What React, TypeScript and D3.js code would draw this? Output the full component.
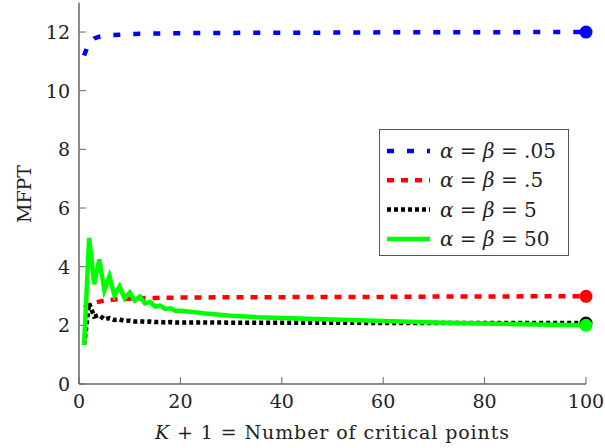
import React from "react"
import * as d3 from "d3"

// K + 1 values where the curves were sampled
const kPoints = [1, 2, 3, 4, 5, 6, 7, 8, 9, 10, 11, 12, 13, 14, 15, 16, 17, 18, 19, 20, 25, 30, 35, 40, 50, 60, 70, 80, 90, 100]

const mfpt005 = [11.2, 11.65, 11.78, 11.84, 11.87, 11.89, 11.9, 11.91, 11.92, 11.93, 11.93, 11.94, 11.94, 11.95, 11.95, 11.95, 11.95, 11.96, 11.96, 11.96, 11.97, 11.97, 11.98, 11.98, 11.98, 11.99, 11.99, 11.99, 12.0, 12.0]
const mfpt05 = [2.6, 2.7, 2.77, 2.81, 2.84, 2.86, 2.88, 2.89, 2.9, 2.91, 2.92, 2.92, 2.93, 2.93, 2.93, 2.94, 2.94, 2.94, 2.94, 2.95, 2.95, 2.96, 2.96, 2.96, 2.97, 2.97, 2.98, 2.98, 2.99, 2.99]
const mfpt5 = [1.33, 2.75, 2.3, 2.35, 2.2, 2.25, 2.18, 2.2, 2.15, 2.16, 2.13, 2.14, 2.12, 2.13, 2.11, 2.12, 2.1, 2.11, 2.1, 2.1, 2.1, 2.09, 2.09, 2.09, 2.09, 2.08, 2.08, 2.08, 2.08, 2.08]
const mfpt50 = [1.33, 4.98, 3.4, 4.25, 3.2, 3.68, 3.02, 3.32, 2.92, 3.12, 2.85, 2.98, 2.75, 2.8, 2.64, 2.67, 2.56, 2.58, 2.5, 2.5, 2.4, 2.33, 2.28, 2.25, 2.2, 2.15, 2.1, 2.06, 2.03, 2.0]

const xTicks = [0, 20, 40, 60, 80, 100]
const yTicks = [0, 2, 4, 6, 8, 10, 12]

const series = [
  { label: ".05", values: mfpt005, color: "#0000ff", dash: "7 13" },
  { label: ".5", values: mfpt05, color: "#ff0000", dash: "7 7" },
  { label: "5", values: mfpt5, color: "#000000", dash: "4 3" },
  { label: "50", values: mfpt50, color: "#00ff00", dash: "none" },
]

const W = 605
const H = 448
const left = 79
const right = 586
const bottom = 384
const txt = { fontFamily: "'DejaVu Serif'" }
const fs = 19

export default function App() {
  const x = d3.scaleLinear().domain([0, 100]).range([left, right])
  const y = d3.scaleLinear().domain([0, 13]).range([bottom, bottom - 13 * 29.33])
  const line = d3
    .line<number>()
    .x((_, i) => x(kPoints[i]))
    .y((d) => y(d))
  const axisColor = "#666"

  return (
    <svg width={W} height={H} style={{ position: "absolute", left: 0, top: 0, background: "#fff" }}>
      {/* ticks */}
      {xTicks.map((t) => (
        <g key={"x" + t}>
          <line x1={x(t)} x2={x(t)} y1={bottom} y2={bottom - 7} stroke={axisColor} strokeWidth={1} />
          <text x={x(t)} y={bottom + 24} textAnchor="middle" fontSize={fs} fill="#222" style={txt}>{t}</text>
        </g>
      ))}
      {yTicks.map((t) => (
        <g key={"y" + t}>
          <line x1={left} x2={left + 7} y1={y(t)} y2={y(t)} stroke={axisColor} strokeWidth={1} />
          <text x={70} y={y(t) + 7} textAnchor="end" fontSize={fs} fill="#222" style={txt}>{t}</text>
        </g>
      ))}

      {/* curves */}
      {series.map((s) => (
        <path key={s.label} d={line(s.values) ?? ""} fill="none" stroke={s.color} strokeWidth={4.5} strokeDasharray={s.dash} strokeLinejoin="miter" />
      ))}
      {series.map((s) => (
        <circle key={"m" + s.label} cx={x(kPoints[kPoints.length - 1])} cy={y(s.values[s.values.length - 1])} r={6.5} fill={s.color} />
      ))}

      {/* axis lines */}
      <line x1={left} x2={left} y1={bottom} y2={y(13)} stroke={axisColor} strokeWidth={1.5} />
      <line x1={left} x2={right} y1={bottom} y2={bottom} stroke={axisColor} strokeWidth={1.5} />

      {/* legend */}
      <rect x={379.5} y={129.5} width={189} height={126} fill="#fff" stroke="#555" strokeWidth={1} />
      {series.map((s, i) => {
        const cy = 151 + i * 29.3
        return (
          <g key={"l" + s.label}>
            <line x1={387} x2={430} y1={cy} y2={cy} stroke={s.color} strokeWidth={4.5} strokeDasharray={s.dash} />
            <text x={440} y={cy + 7} fontSize={20} fill="#222" style={txt}>
              <tspan fontStyle="italic">α</tspan>
              <tspan> = </tspan>
              <tspan fontStyle="italic">β</tspan>
              <tspan> = {s.label}</tspan>
            </text>
          </g>
        )
      })}

      {/* axis titles */}
      <text x={332} y={439} textAnchor="middle" fontSize={fs} fill="#222" style={txt} textLength={354} lengthAdjust="spacing">
        <tspan fontStyle="italic">K</tspan>
        <tspan> + 1 = Number of critical points</tspan>
      </text>
      <text transform="translate(31,194) rotate(-90)" textAnchor="middle" fontSize={fs} fill="#222" style={txt}>MFPT</text>
    </svg>
  )
}
